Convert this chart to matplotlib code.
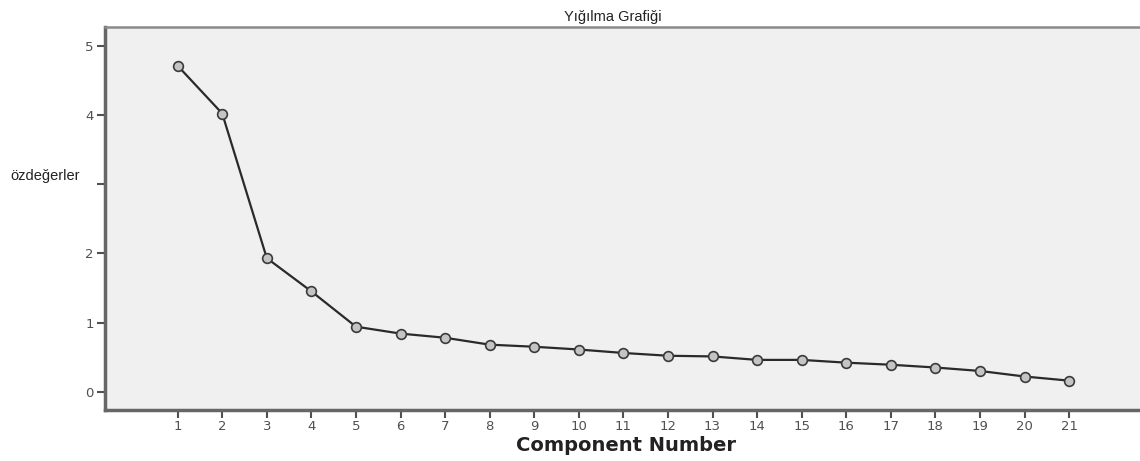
import matplotlib
matplotlib.use('Agg')
import matplotlib.pyplot as plt

# Yığılma grafiği (scree plot) verileri
components = list(range(1, 22))
eigenvalues = [4.71, 4.02, 1.93, 1.45, 0.94, 0.84, 0.78, 0.68, 0.65, 0.61,
               0.56, 0.52, 0.51, 0.46, 0.46, 0.42, 0.39, 0.35, 0.30, 0.22, 0.16]
y_ticks = [0, 1, 2, 3, 4, 5]
y_tick_labels = ['0', '1', '2', '', '4', '5']

plt.rcParams['font.family'] = ['Liberation Sans', 'DejaVu Sans']

fig = plt.figure(figsize=(11.4, 4.61), dpi=100)
ax = fig.add_axes([105 / 1140, 1 - 410 / 461, 1 - 105 / 1140, (410 - 27) / 461])
ax.set_facecolor('#f0f0f0')

ax.plot(components, eigenvalues, color='#2a2a2a', linewidth=1.6,
        marker='o', markersize=7, markerfacecolor='#c4c4c4',
        markeredgecolor='#3a3a3a', markeredgewidth=1.2)

ax.set_xlim(-0.63, 22.59)
ax.set_ylim(-0.264, 5.27)

ax.set_xticks(components)
ax.set_xticklabels([str(c) for c in components], family='DejaVu Sans',
                   fontsize=9.5, color='#505050')
ax.set_yticks(y_ticks)
ax.set_yticklabels(y_tick_labels, family='DejaVu Sans',
                   fontsize=9.5, color='#505050')
ax.tick_params(axis='both', direction='out', length=6, width=1.5,
               color='#505050')
ax.tick_params(axis='x', pad=1)
ax.tick_params(axis='y', pad=2)

# Kenarlıklar
ax.spines['right'].set_visible(False)
ax.spines['left'].set_color('#666666')
ax.spines['left'].set_linewidth(2.5)
ax.spines['bottom'].set_color('#666666')
ax.spines['bottom'].set_linewidth(2.5)
ax.spines['top'].set_color('#8a8a8a')
ax.spines['top'].set_linewidth(1.8)

ax.set_title('Yığılma Grafiği', fontsize=10.5, color='#222222', pad=4,
             x=(613 - 105) / 1035)
ax.set_xlabel('Component Number', family='DejaVu Sans', fontweight='bold',
              fontsize=14, color='#222222', va='center')
ax.xaxis.set_label_coords((626 - 105) / 1035, -(445 - 410) / 383)

ax.set_ylabel('özdeğerler', rotation=0, fontsize=10.5, color='#222222',
              ha='left', va='center')
ax.yaxis.set_label_coords((10 - 105) / 1035, 0.611)

fig.savefig('out.png', dpi=100)
